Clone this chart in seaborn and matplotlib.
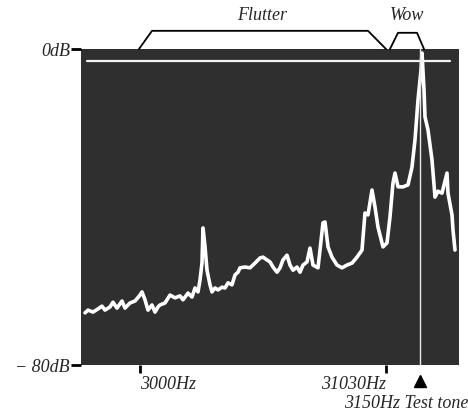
import matplotlib
matplotlib.use("Agg")
import matplotlib.pyplot as plt
import seaborn as sns
import pandas as pd

# position along the sweep (arbitrary units, 0..378) and level in dB
pos = [4, 7, 12, 17, 21, 24, 29, 32, 36, 41, 44, 49, 54, 59, 61, 64, 67, 71, 74, 77,
       79, 84, 89, 94, 99, 102, 107, 111, 114, 117, 119, 121, 122, 124, 126, 129, 131,
       134, 137, 141, 144, 147, 151, 154, 157, 159, 164, 169, 174, 179, 182, 186, 189,
       192, 196, 199, 202, 206, 209, 212, 216, 219, 222, 226, 229, 232, 237, 239, 242,
       244, 247, 251, 256, 261, 266, 271, 276, 281, 284, 287, 291, 294, 297, 302, 306,
       309, 312, 314, 317, 322, 327, 331, 334, 337, 340, 341, 343, 344, 347, 351, 354,
       357, 361, 366, 367, 371, 372, 374]
level_db = [-66.8, -66.1, -66.6, -65.8, -65.1, -66.1, -65.3, -64.1, -65.6, -63.8, -65.6,
            -64.3, -63.8, -62.3, -61.5, -63.5, -66.1, -64.8, -66.6, -65.3, -64.8, -64.3,
            -62.3, -63.0, -62.5, -63.5, -61.8, -62.8, -60.5, -61.5, -58.5, -54.2, -45.3,
            -50.0, -56.0, -59.7, -61.5, -60.5, -61.0, -60.3, -60.5, -59.2, -59.7, -57.2,
            -56.5, -55.4, -55.2, -55.4, -54.2, -52.9, -52.7, -53.4, -53.9, -55.2, -56.5,
            -55.4, -53.4, -52.2, -54.7, -56.0, -55.2, -56.5, -54.7, -53.9, -50.4, -54.7,
            -55.4, -50.9, -44.0, -43.8, -50.1, -52.7, -54.7, -55.4, -54.7, -54.2, -52.7,
            -50.9, -41.5, -42.0, -35.7, -40.0, -45.1, -50.1, -49.1, -42.5, -33.9, -31.4,
            -34.9, -34.9, -34.4, -29.9, -23.0, -12.9, -5.3, -1.0, -10.4, -17.2, -20.5,
            -28.1, -37.5, -36.0, -36.5, -31.4, -36.5, -42.0, -45.8, -50.9]

y_ticks = [0, -80]
y_labels = ["0dB", "\u2212 80dB"]
x_ticks = [59, 305]
x_labels = ["3000Hz", "31030Hz"]
test_tone_pos = 339
test_tone_label = "3150Hz Test tone"
ref_level = -3
flutter_span = [58, 71, 287, 305]
wow_span = [309, 317, 336, 343]

sns.set_style("white")
font = ["Liberation Serif", "DejaVu Serif"]
plt.rcParams["font.family"] = font
FS = 13

fig = plt.figure(figsize=(4.68, 4.16), dpi=100)
ax = fig.add_axes([81 / 468, 1 - 365 / 416, 378 / 468, 316 / 416])
ax.set_facecolor("#2f2f2f")

df = pd.DataFrame({"pos": pos, "level": level_db})
sns.lineplot(data=df, x="pos", y="level", ax=ax, color="white", linewidth=2.6)

ax.plot([6, 369], [ref_level, ref_level], color="#f2f2f2", lw=1.6)
ax.plot([test_tone_pos, test_tone_pos], [-80, 0], color="#e8e8e8", lw=1.0)

ax.set_xlim(0, 378)
ax.set_ylim(-80, 0)
ax.set_xlabel("")
ax.set_ylabel("")
for s in ax.spines.values():
    s.set_visible(False)

ax.set_yticks(y_ticks)
ax.set_yticklabels(y_labels, style="italic", fontsize=FS)
ax.set_xticks(x_ticks)
ax.set_xticklabels(x_labels, style="italic", fontsize=FS)
ax.tick_params(axis="y", left=True, length=7, width=2, color="black", pad=1)
ax.tick_params(axis="x", bottom=True, length=6, width=2, color="black", pad=2)
lbls = ax.get_xticklabels()
lbls[0].set_ha("left")
lbls[1].set_ha("right")

# test tone marker
ax.plot([test_tone_pos], [-84], marker="^", color="black", markersize=9, clip_on=False)
ax.text(387, -89.8, test_tone_label, ha="right", va="center", style="italic",
        fontsize=FS, clip_on=False)

# brackets
def bracket(xs, top, label):
    ax.plot([xs[0], xs[1], xs[2], xs[3]], [0, top, top, 0], color="black", lw=1.3,
            clip_on=False)
    ax.text((xs[0] + xs[3]) / 2, 8.6, label, ha="center", va="center",
            style="italic", fontsize=FS, clip_on=False)

bracket(flutter_span, 4.6, "Flutter")
bracket(wow_span, 4.1, "Wow")

fig.savefig("out.png", dpi=100, facecolor="white")
